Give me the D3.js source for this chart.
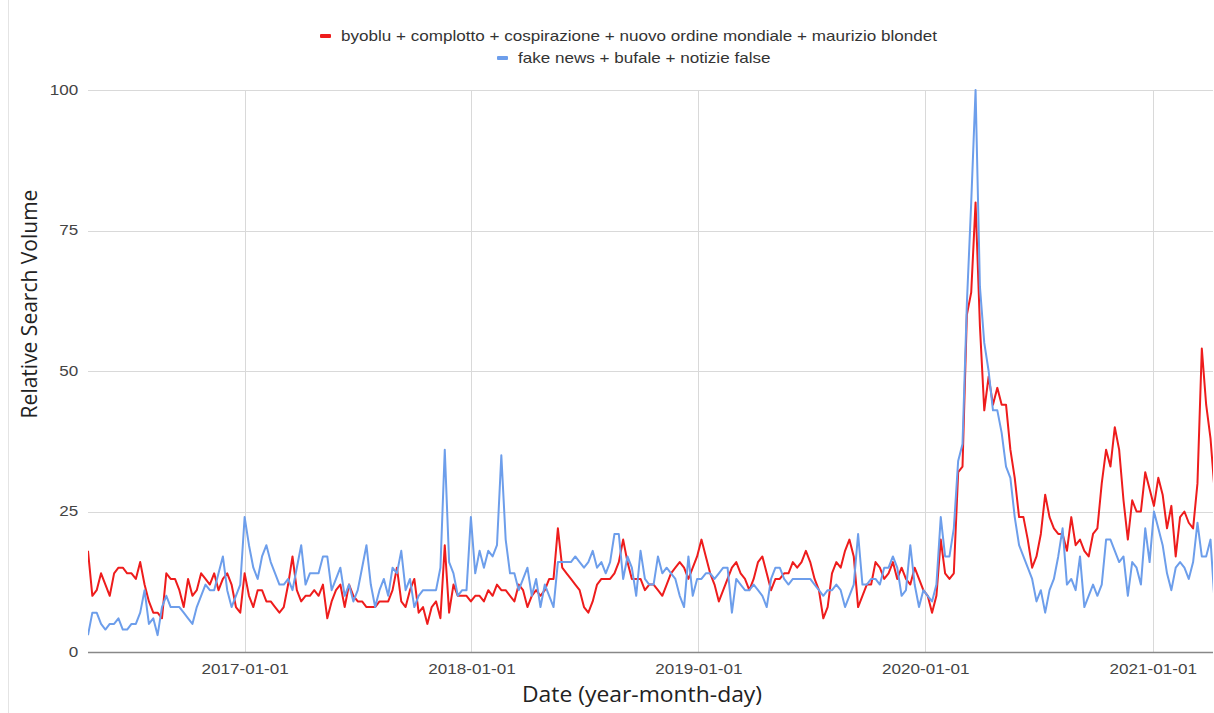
<!DOCTYPE html>
<html>
<head>
<meta charset="utf-8">
<script src="https://cdn.jsdelivr.net/npm/d3@7"></script>
<style>
  body { margin: 0; background: #fff; }
  svg { display: block; }
</style>
</head>
<body>
<div id="chart"></div>
<script>
// weekly series, first week starting 2016-04-24
const startDate = "2016-04-24";
const endDate = "2021-04-08";

const seriesNames = [
    "byoblu + complotto + cospirazione + nuovo ordine mondiale + maurizio blondet",
    "fake news + bufale + notizie false"
];

const redValues = [
    18,10,11,14,12,10,14,15,15,14,
    14,13,16,12,9,7,7,6,14,13,
    13,11,8,13,10,11,14,13,12,14,
    11,13,14,12,8,7,14,10,8,11,
    11,9,9,8,7,8,12,17,11,9,
    10,10,11,10,12,6,9,11,12,8,
    12,10,9,9,8,8,8,9,9,9,
    11,15,9,8,11,13,7,8,5,8,
    9,6,19,7,12,10,10,10,9,10,
    10,9,11,10,12,11,11,10,9,12,
    11,8,10,11,10,11,13,13,22,15,
    14,13,12,11,8,7,9,12,13,13,
    13,14,16,20,16,13,13,13,11,12,
    12,11,10,12,14,15,16,15,13,15,
    17,20,17,14,12,9,11,13,15,16,
    14,13,11,13,16,17,14,11,13,13,
    14,14,16,15,16,18,16,13,11,6,
    8,14,16,15,18,20,17,8,10,12,
    12,16,15,13,14,16,13,15,13,12,
    15,13,11,10,7,10,20,14,13,14,
    32,33,60,64,80,58,43,49,44,47,
    44,44,36,31,24,24,20,15,17,21,
    28,24,22,21,21,18,24,19,20,18,
    17,21,22,30,36,33,40,36,27,20,
    27,25,25,32,29,26,31,28,22,26,
    17,24,25,23,22,30,54,44,38,28
];

const blueValues = [
    3,7,7,5,4,5,5,6,4,4,
    5,5,7,11,5,6,3,8,10,8,
    8,8,7,6,5,8,10,12,11,11,
    14,17,11,8,10,12,24,19,15,13,
    17,19,16,14,12,12,13,11,15,19,
    12,14,14,14,17,17,11,13,15,10,
    12,9,11,15,19,12,8,11,13,10,
    15,14,18,11,13,8,10,11,11,11,
    11,15,36,16,14,10,11,11,24,14,
    18,15,18,17,19,35,20,14,14,11,
    13,15,10,13,8,12,10,8,16,16,
    16,16,17,16,15,16,18,15,16,14,
    16,21,21,13,17,15,10,18,13,12,
    12,17,14,15,14,13,10,8,17,10,
    13,13,14,14,13,14,15,15,7,13,
    12,11,11,12,11,10,8,13,15,15,
    13,12,13,13,13,13,13,12,11,10,
    11,11,12,11,8,10,12,21,12,12,
    13,13,12,15,15,17,15,10,11,19,
    12,8,11,10,9,12,24,17,17,22,
    34,37,62,80,100,65,55,50,43,43,
    39,33,31,24,19,17,15,13,9,11,
    7,11,13,17,22,12,13,11,17,8,
    10,12,10,12,20,20,18,16,17,10,
    16,15,12,22,16,25,22,19,14,11,
    15,16,15,13,16,23,17,17,20,8
];

const yTicks = [0, 25, 50, 75, 100];
const xTicks = ["2017-01-01", "2018-01-01", "2019-01-01", "2020-01-01", "2021-01-01"];

const colors = ["#ee1c1c", "#6d9eeb"];

// the reference picture is stretched sideways, so small texts are too
const stretch = 1.22;

const parse = d3.utcParse("%Y-%m-%d");
const t0 = parse(startDate);
const toPoints = vals => vals.map((v, i) => ({ date: d3.utcWeek.offset(t0, i), value: v }));
const series = [toPoints(redValues), toPoints(blueValues)];

const W = 1214, H = 713;
const margin = { top: 90, right: 1, bottom: 61, left: 88 };
const width = W - margin.left - margin.right,
      height = H - margin.top - margin.bottom;

const svg = d3.select("#chart").append("svg")
    .attr("width", W)
    .attr("height", H);

// faint page border on the left
svg.append("line")
    .attr("x1", 8.5).attr("x2", 8.5)
    .attr("y1", 0).attr("y2", H)
    .attr("stroke", "#e4e4e4");

const g = svg.append("g")
    .attr("transform", `translate(${margin.left},${margin.top})`);

const x = d3.scaleUtc()
    .domain([t0, parse(endDate)])
    .range([0, width]);

const y = d3.scaleLinear()
    .domain([0, 100])
    .range([height, 0]);

// grid
g.append("g")
    .selectAll("line")
    .data(yTicks.filter(d => d > 0))
    .join("line")
    .attr("x1", 0).attr("x2", width)
    .attr("y1", d => Math.round(y(d)) + 0.5)
    .attr("y2", d => Math.round(y(d)) + 0.5)
    .attr("stroke", "#d9d9d9");

g.append("g")
    .selectAll("line")
    .data(xTicks.map(parse))
    .join("line")
    .attr("x1", d => Math.round(x(d)) + 0.5)
    .attr("x2", d => Math.round(x(d)) + 0.5)
    .attr("y1", 0).attr("y2", height)
    .attr("stroke", "#d9d9d9");

// axes
const yAxis = g.append("g")
    .call(d3.axisLeft(y).tickValues(yTicks).tickSize(0).tickPadding(8));
yAxis.select(".domain").remove();
yAxis.selectAll("text")
    .attr("font-family", "Liberation Sans, Arial, sans-serif")
    .attr("font-size", 14)
    .attr("fill", "#444")
    .attr("transform", `scale(${stretch},1)`);

const xAxis = g.append("g")
    .attr("transform", `translate(0,${height})`)
    .call(d3.axisBottom(x).tickValues(xTicks.map(parse)).tickSize(0).tickPadding(12)
        .tickFormat(d3.utcFormat("%Y-%m-%d")));
xAxis.select(".domain").remove();
xAxis.selectAll("text")
    .attr("font-family", "Liberation Sans, Arial, sans-serif")
    .attr("font-size", 14)
    .attr("fill", "#444")
    .attr("transform", `scale(${stretch},1)`);

// lines
svg.append("defs").append("clipPath")
    .attr("id", "plotclip")
    .append("rect")
    .attr("x", 0).attr("y", -3)
    .attr("width", width).attr("height", height + 6);

const line = d3.line()
    .x(d => x(d.date))
    .y(d => y(d.value));

g.append("g")
    .attr("clip-path", "url(#plotclip)")
    .selectAll("path")
    .data(series)
    .join("path")
    .attr("d", line)
    .attr("fill", "none")
    .attr("stroke", (d, i) => colors[i])
    .attr("stroke-width", 2)
    .attr("stroke-linejoin", "round");

// baseline
g.append("line")
    .attr("x1", 0).attr("x2", width)
    .attr("y1", height + 0.5).attr("y2", height + 0.5)
    .attr("stroke", "#888")
    .attr("stroke-width", 1.5);

// axis titles
svg.append("text")
    .attr("transform", "translate(642,702) scale(1.09,1)")
    .attr("text-anchor", "middle")
    .attr("font-family", "Open Sans, sans-serif")
    .attr("font-size", 21)
    .attr("fill", "#222")
    .text("Date (year-month-day)");

svg.append("text")
    .attr("transform", "translate(37,304) rotate(-90)")
    .attr("text-anchor", "middle")
    .attr("font-family", "Open Sans, sans-serif")
    .attr("font-size", 21)
    .attr("fill", "#222")
    .text("Relative Search Volume");

// legend
const legendRows = [
    { x: 320, y: 36 },
    { x: 497, y: 58 }
];
const legend = svg.append("g")
    .selectAll("g")
    .data(seriesNames)
    .join("g")
    .attr("transform", (d, i) => `translate(${legendRows[i].x},${legendRows[i].y})`);

legend.append("rect")
    .attr("x", 0).attr("y", -2)
    .attr("width", 11).attr("height", 4)
    .attr("rx", 1)
    .attr("fill", (d, i) => colors[i]);

legend.append("text")
    .attr("transform", `translate(21,0) scale(${stretch},1)`)
    .attr("dy", "0.35em")
    .attr("font-family", "Liberation Sans, Arial, sans-serif")
    .attr("font-size", 14)
    .attr("fill", "#333")
    .text(d => d);
</script>
</body>
</html>
